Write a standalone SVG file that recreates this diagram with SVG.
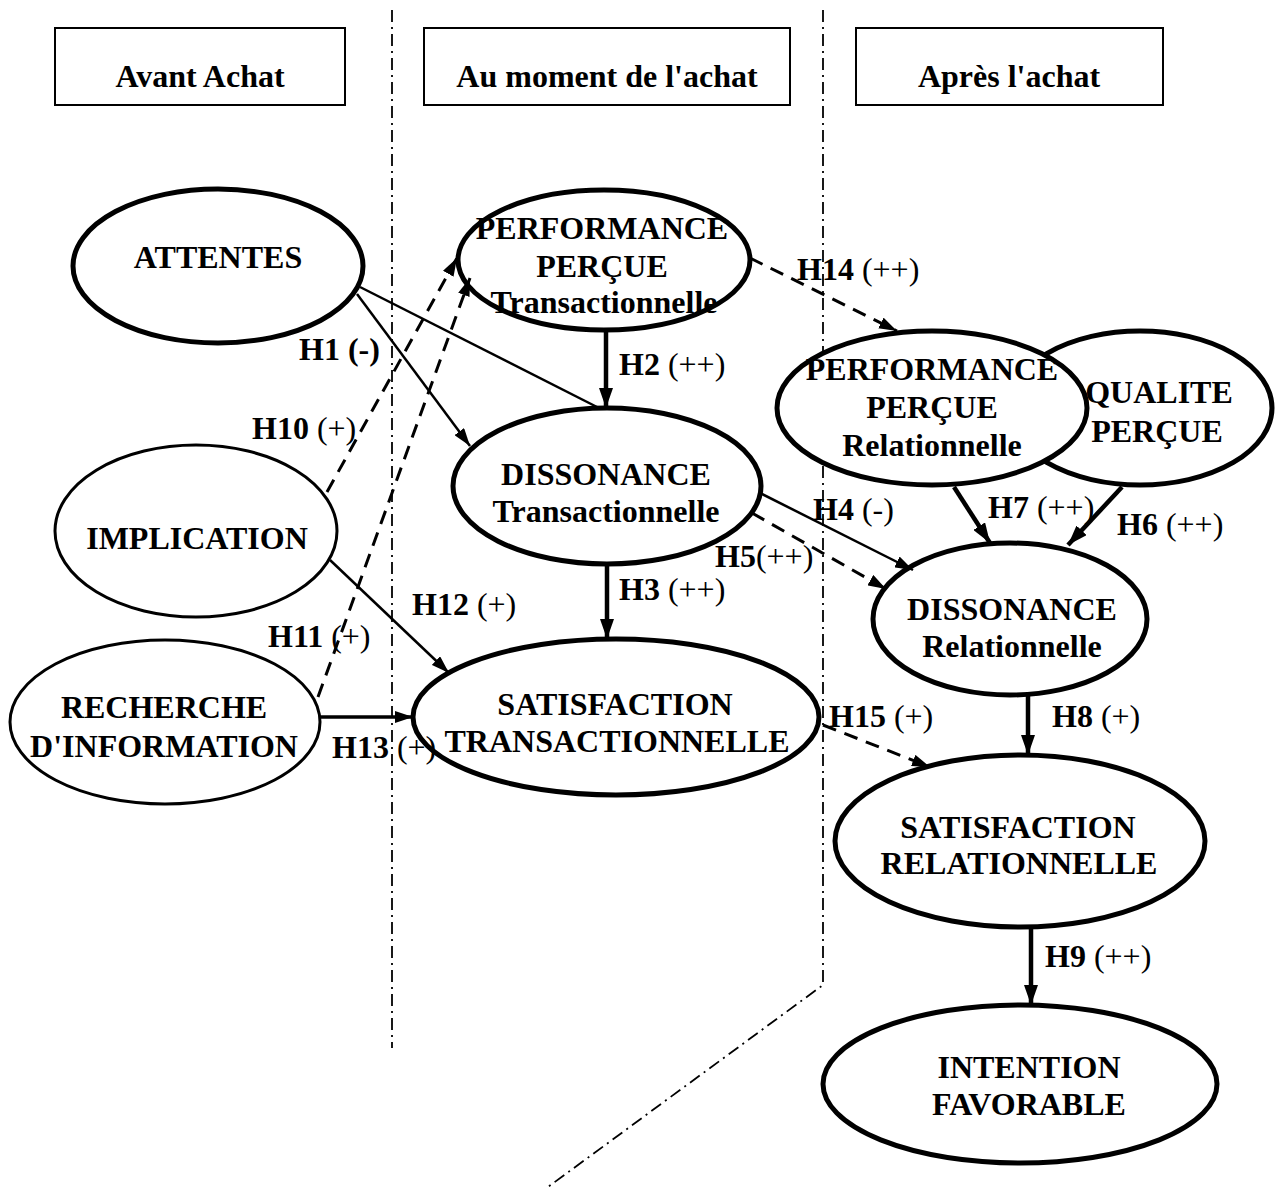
<svg xmlns="http://www.w3.org/2000/svg" width="1282" height="1187" viewBox="0 0 1282 1187">
<style>
  text { font-family: "Liberation Serif", "Times New Roman", serif; font-size: 32px; font-weight: bold; fill: #000; }
  .c { text-anchor: middle; }
  .n { font-weight: normal; }
  .node { fill: #fff; stroke: #000; stroke-width: 5; }
  .thin { stroke-width: 3; }
  .hdr { fill: #fff; stroke: #000; stroke-width: 2; }
  .div { fill: none; stroke: #000; stroke-width: 1.8; stroke-dasharray: 12 5 2 5; }
  .ln { fill: none; stroke: #000; stroke-width: 2.5; }
  .th { fill: none; stroke: #000; stroke-width: 4.5; }
  .ds { fill: none; stroke: #000; stroke-width: 3; stroke-dasharray: 14 9; }
</style>
<defs>
  <marker id="ah" markerUnits="userSpaceOnUse" markerWidth="20" markerHeight="14" refX="20" refY="7" orient="auto">
    <path d="M0,0 L20,7 L0,14 z" fill="#000"/>
  </marker>
  <marker id="ahs" markerUnits="userSpaceOnUse" markerWidth="18" markerHeight="12" refX="18" refY="6" orient="auto">
    <path d="M0,0 L18,6 L0,12 z" fill="#000"/>
  </marker>
</defs>
<rect width="1282" height="1187" fill="#fff"/>

<g id="dividers">
  <path class="div" d="M392,10 L392,1048"/>
  <path class="div" d="M823,10 L823,985 L548,1187"/>
</g>

<g id="header-avant">
  <rect class="hdr" x="55" y="28" width="290" height="77"/>
  <text class="c" x="200" y="87">Avant Achat</text>
</g>
<g id="header-moment">
  <rect class="hdr" x="424" y="28" width="366" height="77"/>
  <text class="c" x="607" y="87">Au moment de l'achat</text>
</g>
<g id="header-apres">
  <rect class="hdr" x="856" y="28" width="307" height="77"/>
  <text class="c" x="1009" y="87">Après l'achat</text>
</g>

<g id="node-attentes">
  <ellipse class="node" cx="218" cy="266" rx="145" ry="77"/>
  <text class="c" x="218" y="268">ATTENTES</text>
</g>
<g id="node-implication">
  <ellipse class="node thin" cx="196" cy="531" rx="141" ry="86"/>
  <text class="c" x="197" y="549">IMPLICATION</text>
</g>
<g id="node-recherche">
  <ellipse class="node thin" cx="165" cy="722" rx="155" ry="82"/>
  <text class="c" x="164" y="718">RECHERCHE</text>
  <text class="c" x="164" y="757">D'INFORMATION</text>
</g>
<g id="node-perf-trans">
  <ellipse class="node" cx="604" cy="260" rx="146" ry="70"/>
  <text class="c" x="602" y="239">PERFORMANCE</text>
  <text class="c" x="602" y="277">PERÇUE</text>
  <text class="c" x="604" y="313">Transactionnelle</text>
</g>
<g id="node-diss-trans">
  <ellipse class="node" cx="607" cy="486" rx="154" ry="78"/>
  <text class="c" x="606" y="485">DISSONANCE</text>
  <text class="c" x="606" y="522">Transactionnelle</text>
</g>
<g id="node-sat-trans">
  <ellipse class="node" cx="616" cy="717" rx="203" ry="78"/>
  <text class="c" x="615" y="715">SATISFACTION</text>
  <text class="c" x="617" y="752">TRANSACTIONNELLE</text>
</g>
<g id="node-qualite">
  <ellipse class="node" cx="1140" cy="408" rx="132" ry="77"/>
  <text class="c" x="1159" y="403">QUALITE</text>
  <text class="c" x="1157" y="442">PERÇUE</text>
</g>
<g id="node-perf-rel">
  <ellipse class="node" cx="932" cy="408" rx="155" ry="77"/>
  <text class="c" x="932" y="380">PERFORMANCE</text>
  <text class="c" x="932" y="418">PERÇUE</text>
  <text class="c" x="932" y="456">Relationnelle</text>
</g>
<g id="node-diss-rel">
  <ellipse class="node" cx="1010" cy="619" rx="137" ry="76"/>
  <text class="c" x="1012" y="620">DISSONANCE</text>
  <text class="c" x="1012" y="657">Relationnelle</text>
</g>
<g id="node-sat-rel">
  <ellipse class="node" cx="1020" cy="841" rx="185" ry="86"/>
  <text class="c" x="1018" y="838">SATISFACTION</text>
  <text class="c" x="1019" y="874">RELATIONNELLE</text>
</g>
<g id="node-intention">
  <ellipse class="node" cx="1020" cy="1084" rx="197" ry="79"/>
  <text class="c" x="1029" y="1078">INTENTION</text>
  <text class="c" x="1029" y="1115">FAVORABLE</text>
</g>

<g id="connectors">
  <!-- H1 -->
  <path class="ln" d="M360,287 L597,407"/>
  <path class="ln" d="M357,294 L470,446" marker-end="url(#ahs)"/>
  <!-- H2 -->
  <path class="th" d="M606,331 L606,408" marker-end="url(#ah)"/>
  <!-- H3 -->
  <path class="th" d="M607,565 L607,639" marker-end="url(#ah)"/>
  <!-- H10 -->
  <path class="ds" d="M327,492 L457,258" marker-end="url(#ahs)"/>
  <!-- H11 -->
  <path class="ds" d="M318,697 L470,278" marker-end="url(#ahs)"/>
  <!-- H12 -->
  <path class="ln" d="M330,560 L449,673" marker-end="url(#ahs)"/>
  <!-- H13 -->
  <path class="th" style="stroke-width:3.5" d="M319,717 L413,717" marker-end="url(#ahs)"/>
  <!-- H14 -->
  <path class="ds" d="M750,258 L897,331" marker-end="url(#ahs)"/>
  <!-- H4 -->
  <path class="ln" d="M760,493 L913,570" marker-end="url(#ahs)"/>
  <!-- H5 -->
  <path class="ds" d="M752,513 L886,589" marker-end="url(#ahs)"/>
  <!-- H7 -->
  <path class="th" d="M954,487 L990,543" marker-end="url(#ah)"/>
  <!-- H6 -->
  <path class="th" d="M1122,487 L1068,545" marker-end="url(#ah)"/>
  <!-- H15 -->
  <path class="ds" d="M823,725 L930,767" marker-end="url(#ahs)"/>
  <!-- H8 -->
  <path class="th" d="M1028,695 L1028,755" marker-end="url(#ah)"/>
  <!-- H9 -->
  <path class="th" d="M1031,927 L1031,1005" marker-end="url(#ah)"/>

  <text x="299" y="360">H1 (-)</text>
  <text x="252" y="439">H10 <tspan class="n">(+)</tspan></text>
  <text x="619" y="375">H2 <tspan class="n">(++)</tspan></text>
  <text x="797" y="280">H14 <tspan class="n">(++)</tspan></text>
  <text x="813" y="520">H4 <tspan class="n">(-)</tspan></text>
  <text x="715" y="567">H5<tspan class="n">(++)</tspan></text>
  <text x="988" y="518">H7 <tspan class="n">(++)</tspan></text>
  <text x="1117" y="535">H6 <tspan class="n">(++)</tspan></text>
  <text x="619" y="600">H3 <tspan class="n">(++)</tspan></text>
  <text x="412" y="615">H12 <tspan class="n">(+)</tspan></text>
  <text x="268" y="647">H11 <tspan class="n">(+)</tspan></text>
  <text x="332" y="758">H13 <tspan class="n">(+)</tspan></text>
  <text x="829" y="727">H15 <tspan class="n">(+)</tspan></text>
  <text x="1052" y="727">H8 <tspan class="n">(+)</tspan></text>
  <text x="1045" y="967">H9 <tspan class="n">(++)</tspan></text>
</g>
</svg>
